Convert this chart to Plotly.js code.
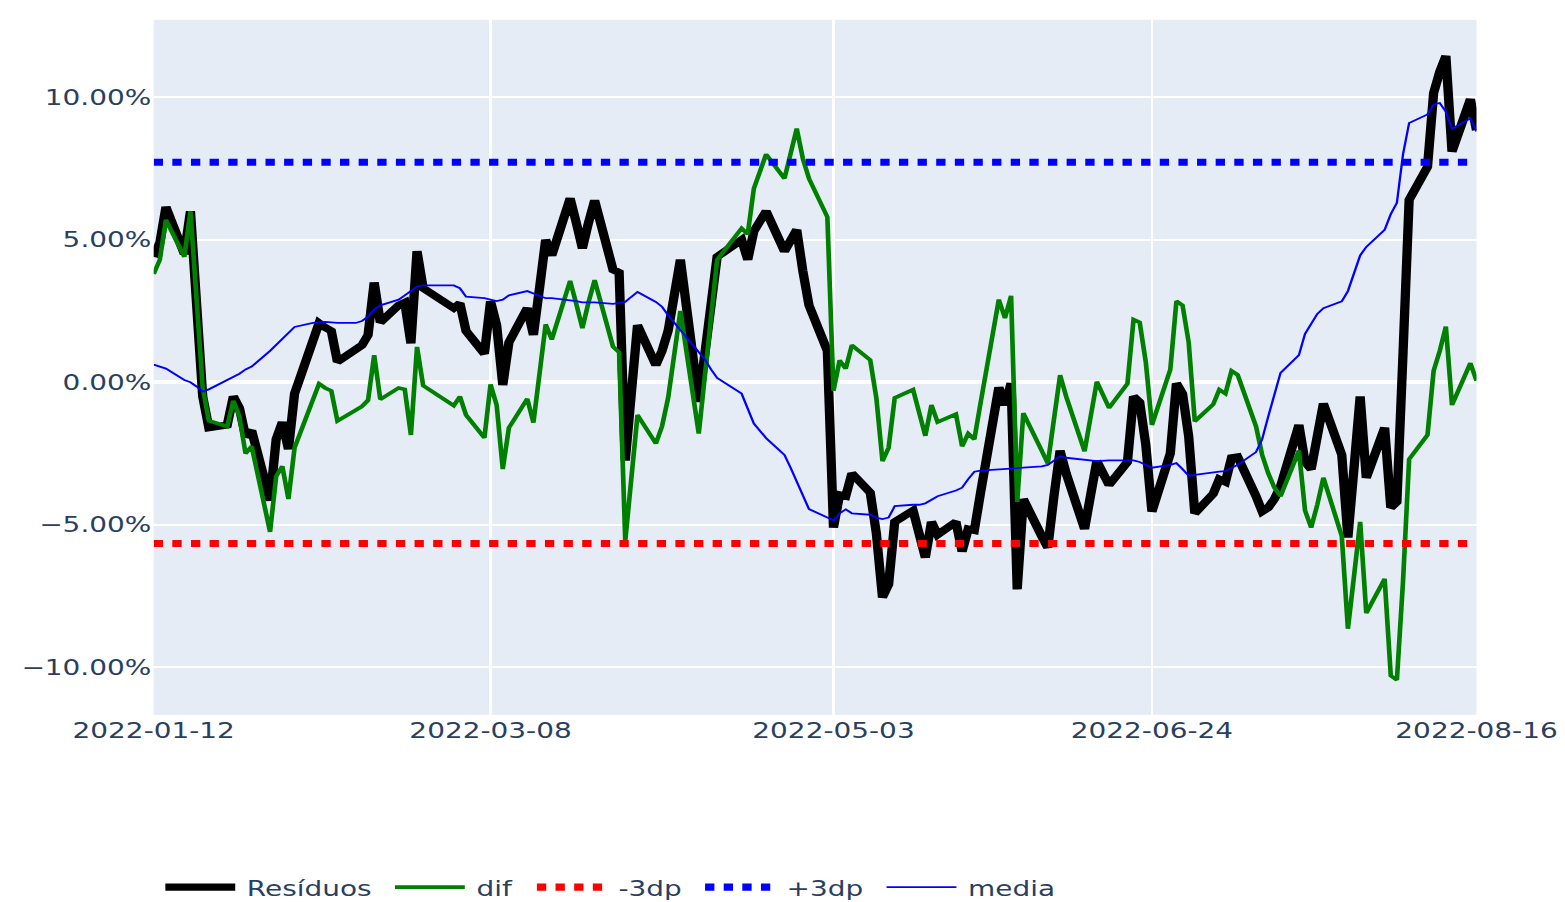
<!DOCTYPE html>
<html>
<head>
<meta charset="utf-8">
<script src="https://cdn.plot.ly/plotly-3.0.1.min.js"></script>
<style>
  html, body { margin: 0; padding: 0; background: #ffffff; overflow: hidden; }
  #wrap { width: 1565px; height: 902px; overflow: hidden; position: relative; }
  #plot { width: 672px; height: 520px; transform-origin: 0 0; transform: scale(2.328869, 1.800399); }
</style>
</head>
<body>
<div id="wrap"><div id="plot"></div></div>
<script>
// ---- data (values in %) ----
const dates = ['2022-01-12','2022-01-13','2022-01-14','2022-01-17','2022-01-18','2022-01-19','2022-01-20','2022-01-21','2022-01-24','2022-01-25',
'2022-01-26','2022-01-27','2022-01-28','2022-01-31','2022-02-01','2022-02-02','2022-02-03','2022-02-04','2022-02-07','2022-02-08',
'2022-02-09','2022-02-10','2022-02-11','2022-02-14','2022-02-15','2022-02-16','2022-02-17','2022-02-18','2022-02-21','2022-02-22',
'2022-02-23','2022-02-24','2022-02-25','2022-03-02','2022-03-03','2022-03-04','2022-03-07','2022-03-08','2022-03-09','2022-03-10',
'2022-03-11','2022-03-14','2022-03-15','2022-03-16','2022-03-17','2022-03-18','2022-03-21','2022-03-22','2022-03-23','2022-03-24',
'2022-03-25','2022-03-28','2022-03-29','2022-03-30','2022-03-31','2022-04-01','2022-04-04','2022-04-05','2022-04-06','2022-04-07',
'2022-04-08','2022-04-11','2022-04-12','2022-04-13','2022-04-14','2022-04-18','2022-04-19','2022-04-20','2022-04-22','2022-04-25',
'2022-04-26','2022-04-27','2022-04-28','2022-04-29','2022-05-02','2022-05-03','2022-05-04','2022-05-05','2022-05-06','2022-05-09',
'2022-05-10','2022-05-11','2022-05-12','2022-05-13','2022-05-16','2022-05-17','2022-05-18','2022-05-19','2022-05-20','2022-05-23',
'2022-05-24','2022-05-25','2022-05-26','2022-05-27','2022-05-30','2022-05-31','2022-06-01','2022-06-02','2022-06-03','2022-06-06',
'2022-06-07','2022-06-08','2022-06-09','2022-06-10','2022-06-13','2022-06-14','2022-06-15','2022-06-17','2022-06-20','2022-06-21',
'2022-06-22','2022-06-23','2022-06-24','2022-06-27','2022-06-28','2022-06-29','2022-06-30','2022-07-01','2022-07-04','2022-07-05',
'2022-07-06','2022-07-07','2022-07-08','2022-07-11','2022-07-12','2022-07-13','2022-07-14','2022-07-15','2022-07-18','2022-07-19',
'2022-07-20','2022-07-21','2022-07-22','2022-07-25','2022-07-26','2022-07-27','2022-07-28','2022-07-29','2022-08-01','2022-08-02',
'2022-08-03','2022-08-04','2022-08-05','2022-08-08','2022-08-09','2022-08-10','2022-08-11','2022-08-12','2022-08-15','2022-08-16'];

const residuos = [4.4, 4.9, 6.15, 4.5, 6.0, 2.5, -0.5, -1.6, -1.5, -0.5,
-0.9, -1.9, -1.7, -4.15, -2.0, -1.4, -2.35, -0.4, 1.55, 2.08,
1.92, 1.8, 0.72, 1.12, 1.3, 1.66, 3.5, 2.1, 2.7, 2.8,
1.37, 4.6, 3.3, 2.6, 2.77, 1.8, 1.0, 2.84, 2.0, -0.1,
1.4, 2.6, 1.66, 3.3, 5.0, 4.45, 6.45, 5.6, 4.7, 5.6,
6.38, 3.95, 3.85, -2.75, -0.4, 2.0, 0.6, 1.1, 1.8, 3.1,
4.3, -0.69, 1.15, 3.0, 4.4, 5.0, 4.3, 5.3, 6.0, 4.6,
4.95, 5.35, 3.9, 2.7, 1.1, -5.1, -3.95, -4.0, -3.2, -3.87,
-5.3, -7.55, -7.1, -4.9, -4.5, -5.3, -6.15, -4.9, -5.35, -4.9,
-5.94, -5.15, -5.2, -3.9, -0.18, -0.8, -0.04, -7.27, -4.1, -5.4,
-5.8, -4.0, -2.4, -3.2, -5.15, -3.95, -2.77, -3.6, -2.8, -0.5,
-0.7, -2.2, -4.54, -2.5, -0.04, -0.4, -1.9, -4.6, -3.92, -3.4,
-3.5, -2.65, -2.62, -4.0, -4.54, -4.4, -4.1, -3.65, -1.5, -2.8,
-3.05, -1.9, -0.75, -2.55, -5.45, -3.0, -0.5, -3.35, -1.6, -4.4,
-4.2, 1.0, 6.4, 7.56, 10.15, 10.9, 11.45, 8.1, 9.93, 8.85];

const dif = [3.8, 4.3, 5.7, 4.4, 6.0, 2.6, -0.2, -1.35, -1.55, -0.65,
-1.2, -2.5, -2.25, -5.25, -3.3, -2.95, -4.1, -2.3, -0.55, -0.05,
-0.2, -0.3, -1.36, -0.95, -0.85, -0.63, 0.95, -0.6, -0.2, -0.25,
-1.85, 1.24, -0.12, -0.82, -0.5, -1.15, -1.95, -0.08, -0.8, -3.05,
-1.6, -0.58, -1.42, 0.3, 2.03, 1.5, 3.56, 2.75, 1.9, 2.8,
3.58, 1.25, 1.05, -5.57, -3.4, -1.15, -2.15, -1.55, -0.55, 1.0,
2.5, -1.8, 0.4, 2.6, 4.3, 5.4, 5.2, 6.8, 8.0, 7.15,
7.95, 8.9, 7.85, 7.15, 5.8, -0.3, 0.77, 0.48, 1.3, 0.78,
-0.55, -2.77, -2.3, -0.55, -0.26, -1.0, -1.88, -0.8, -1.4, -1.12,
-2.25, -1.8, -2.0, -0.75, 2.9, 2.25, 3.03, -4.2, -1.08, -2.4,
-2.85, -1.3, 0.25, -0.5, -2.42, -1.2, 0.02, -0.9, -0.05, 2.2,
2.1, 0.7, -1.5, 0.45, 2.85, 2.7, 1.4, -1.37, -0.78, -0.26,
-0.4, 0.4, 0.26, -1.55, -2.55, -3.2, -3.7, -4.0, -2.4, -4.5,
-5.1, -4.3, -3.35, -5.4, -8.65, -6.8, -4.9, -8.1, -6.9, -10.3,
-10.45, -7.0, -2.7, -1.85, 0.4, 1.1, 1.95, -0.8, 0.67, 0.05];

const media = [0.62, 0.55, 0.48, 0.08, 0.0, -0.15, -0.33, -0.25, 0.05, 0.15,
0.3, 0.45, 0.55, 1.1, 1.3, 1.55, 1.75, 1.94, 2.08, 2.12,
2.12, 2.1, 2.08, 2.08, 2.15, 2.3, 2.55, 2.7, 2.9, 3.05,
3.2, 3.36, 3.4, 3.4, 3.3, 3.0, 2.95, 2.9, 2.85, 2.9,
3.05, 3.2, 3.1, 3.05, 2.95, 2.95, 2.9, 2.85, 2.8, 2.8,
2.8, 2.75, 2.8, 2.82, 3.0, 3.17, 2.82, 2.65, 2.35, 2.1,
1.8, 1.12, 0.8, 0.45, 0.15, -0.4, -0.9, -1.45, -1.96, -2.55,
-3.0, -3.5, -4.0, -4.45, -4.75, -4.85, -4.6, -4.46, -4.6, -4.65,
-4.75, -4.8, -4.75, -4.35, -4.3, -4.3, -4.25, -4.1, -4.0, -3.8,
-3.7, -3.4, -3.14, -3.1, -3.07, -3.05, -3.03, -3.0, -3.0, -2.95,
-2.9, -2.75, -2.6, -2.65, -2.7, -2.72, -2.77, -2.74, -2.74, -2.74,
-2.8, -2.9, -3.0, -2.9, -2.84, -3.05, -3.28, -3.25, -3.14, -3.14,
-3.12, -3.0, -2.9, -2.45, -2.0, -1.2, -0.4, 0.33, 0.95, 1.7,
2.05, 2.4, 2.6, 2.84, 3.2, 3.9, 4.45, 4.75, 5.35, 5.9,
6.3, 8.0, 9.1, 9.4, 9.75, 9.8, 9.5, 8.9, 9.26, 8.8];

const lowerBand = -5.66;   // -3dp
const upperBand = 7.72;    // +3dp

const tickDates = ['2022-01-12', '2022-03-08', '2022-05-03', '2022-06-24', '2022-08-16'];
const yTicks = [-10, -5, 0, 5, 10];

// ---- traces ----
const FONT = 'DejaVu Sans, Verdana, sans-serif';
const traces = [
  { x: dates, y: residuos, name: 'Resíduos', mode: 'lines', line: { color: 'black', width: 4 } },
  { x: dates, y: dif, name: 'dif', mode: 'lines', line: { color: 'green', width: 2 } },
  { x: dates, y: dates.map(() => lowerBand), name: '-3dp', mode: 'lines', line: { color: 'red', width: 4, dash: 'dot' } },
  { x: dates, y: dates.map(() => upperBand), name: '+3dp', mode: 'lines', line: { color: 'blue', width: 4, dash: 'dot' } },
  { x: dates, y: media, name: 'media', mode: 'lines', line: { color: 'blue', width: 1 } }
];

const layout = {
  width: 672, height: 520,
  margin: { l: 66, r: 38, t: 11, b: 123, pad: 0 },
  paper_bgcolor: '#ffffff',
  plot_bgcolor: '#E5ECF6',
  font: { family: FONT, size: 12, color: '#2a3f5f' },
  showlegend: true,
  legend: {
    orientation: 'h', x: 0, xanchor: 'left', y: -0.248, yanchor: 'middle',
    font: { family: FONT, size: 12, color: '#2a3f5f' },
    bgcolor: 'rgba(0,0,0,0)'
  },
  xaxis: {
    type: 'date',
    range: [dates[0], dates[dates.length - 1]],
    tickmode: 'array', tickvals: tickDates, ticktext: tickDates,
    showgrid: true, gridcolor: 'white', gridwidth: 1,
    zeroline: false, showline: false, ticks: '',
    tickfont: { family: FONT, size: 12, color: '#2a3f5f' }
  },
  yaxis: {
    range: [-11.67, 12.72],
    tickmode: 'array', tickvals: yTicks,
    ticktext: yTicks.map(v => (v < 0 ? '\u2212' : '') + Math.abs(v).toFixed(2) + '%'),
    showgrid: true, gridcolor: 'white', gridwidth: 1,
    zeroline: true, zerolinecolor: 'white', zerolinewidth: 2,
    showline: false, ticks: '',
    tickfont: { family: FONT, size: 12, color: '#2a3f5f' }
  }
};

Plotly.newPlot('plot', traces, layout, { displayModeBar: false, staticPlot: true, responsive: false });
</script>
</body>
</html>
